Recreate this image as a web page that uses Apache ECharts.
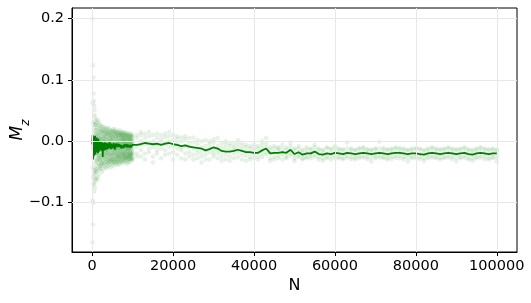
<!DOCTYPE html>
<html>
<head>
<meta charset="utf-8">
<script src="https://cdn.jsdelivr.net/npm/echarts@6/dist/echarts.min.js"></script>
<style>html,body{margin:0;padding:0;background:#fff}#c{width:531px;height:303px}</style>
</head>
<body>
<div id="c"></div>
<script>
// N values at which the running estimate was recorded
const lineN = [0,100,200,300,400,500,600,700,800,900,1000,1100,1200,1300,1400,1500,1600,1700,1800,1900,
2000,2100,2200,2300,2400,2500,2600,2700,2800,2900,3000,3100,3200,3300,3400,3500,3600,3700,3800,3900,
4000,4100,4200,4300,4400,4500,4600,4700,4800,4900,5000,5100,5200,5300,5400,5500,5600,5700,5800,5900,
6000,6100,6200,6300,6400,6500,6600,6700,6800,6900,7000,7100,7200,7300,7400,7500,7600,7700,7800,7900,
8000,8100,8200,8300,8400,8500,8600,8700,8800,8900,9000,9100,9200,9300,9400,9500,9600,9700,9800,9900,
10000,11000,12000,13000,14000,15000,16000,17000,18000,19000,20000,21000,22000,23000,24000,25000,26000,27000,28000,29000,
30000,31000,32000,33000,34000,35000,36000,37000,38000,39000,40000,41000,42000,43000,44000,45000,46000,47000,48000,49000,
50000,51000,52000,53000,54000,55000,56000,57000,58000,59000,60000,61000,62000,63000,64000,65000,66000,67000,68000,69000,
70000,71000,72000,73000,74000,75000,76000,77000,78000,79000,80000,81000,82000,83000,84000,85000,86000,87000,88000,89000,
90000,91000,92000,93000,94000,95000,96000,97000,98000,99000,100000];

// mean M_z (in units of 0.001)
const lineMz = [-5,10,-30,8,-25,5,-20,9,-22,2,
-18,6,-15,-2,-20,4,-12,-3,-17,0,
-14,-4,-10,-1,-16,-5,-26,-3,-12,-6,
-15,-2,-11,-7,-14,-3,-10,-5,-13,-4,
-12,-6,-9,-2,-11,-7,-13,-4,-10,-6,
-12,-5,-9,-3,-11,-6,-14,-5,-9,-4,
-10,-7,-12,-4,-9,-6,-11,-5,-8,-3,
-10,-6,-12,-7,-9,-4,-10,-6,-11,-5,
-9,-7,-12,-6,-9,-5,-10,-7,-11,-6,
-8,-5,-10,-7,-9,-6,-10,-7,-8,-6,
-8,-6,-5,-3,-4,-5,-4,-6,-4,-3,-5,
-6,-8,-7,-9,-10,-11,-12,-15,-13,-10,
-12,-16,-17,-17,-16,-14,-16,-18,-18,-19,
-19,-15,-12,-20,-19,-19,-18,-19,-14,-21,
-18,-22,-20,-20,-17,-21,-22,-20,-21,-19,
-20,-21,-19,-20,-21,-20,-19,-20,-21,-20,
-19,-20,-21,-20,-19,-19,-20,-21,-20,-20,
-21,-22,-20,-19,-20,-21,-20,-19,-20,-21,
-20,-19,-21,-22,-20,-19,-20,-21,-20,-20];

// individual samples of M_z at each N (units of 0.001)
const sampleMz = [
[],
[200,-165,62,-43,-97],[124,-136,31,-58,-12],[104,-101,78,-27,-71],[66,-69,14,-47,28],[58,-54,43,-82,3],
[51,-62,22,-37,-9],[39,-76,9,-52,27],[34,-46,18,-66,-11],[27,-49,12,-31,-61],
[30,-44,-2,-21,9],[18,-50,-12,6,-33],[22,-30,-8,-58,3],[35,-25,-15,0,-40],[12,-62,-4,-20,14],
[26,-36,-11,5,-27],[8,-47,-1,-24,32],[20,-29,-16,-55,2],[28,-39,-6,11,-22],[4,-44,-13,17,-31],
[22,-31,-9,4,-45],[10,-26,-3,-40,16],[25,-19,-11,-35,1],[7,-38,-6,14,-24],[18,-28,-14,-2,-50],
[2,-22,-9,24,-36],[14,-41,-5,-18,6],[20,-25,-12,0,-33],[9,-30,-7,17,-46],[-1,-21,-15,12,-37],
[23,-27,-4,-13,4],[6,-35,-10,15,-22],[11,-18,-8,-42,1],[19,-29,-3,-16,8],[-2,-25,-12,21,-39],
[13,-33,-6,3,-20],[7,-23,-14,16,-44],[17,-30,-1,-11,-35],[2,-19,-9,12,-28],[10,-36,-5,22,-17],
[15,-24,-13,-2,-41],[4,-31,-7,9,-21],[20,-15,-10,-34,0],[-3,-27,-6,13,-38],[11,-22,-12,5,-30],
[6,-33,-4,18,-19],[14,-26,-9,-1,-43],[1,-20,-11,10,-32],[17,-29,-5,-15,3],[8,-37,-8,15,-23],
[-1,-24,-13,7,-35],[12,-18,-6,-30,19],[5,-28,-10,2,-40],[16,-21,-3,-14,-33],[-4,-31,-9,11,-19],
[9,-25,-12,20,-36],[3,-17,-7,14,-29],[13,-34,-4,-11,-1],[7,-22,-14,17,-38],[-2,-27,-8,9,-18],
[15,-30,-6,3,-26],[4,-20,-11,12,-35],[10,-33,-2,-15,-24],[-3,-23,-9,16,-31],[8,-16,-12,5,-39],
[14,-28,-5,-1,-21],[1,-34,-8,10,-25],[11,-19,-13,18,-30],[6,-26,-4,-10,-37],[-1,-22,-9,13,-17],
[12,-31,-6,2,-27],[3,-18,-11,9,-34],[9,-25,-3,-14,16],[-2,-29,-8,6,-21],[13,-20,-12,1,-36],
[5,-32,-5,11,-23],[8,-17,-10,15,-28],[0,-26,-7,4,-33],[11,-22,-13,-1,-19],[4,-30,-4,10,-25],
[14,-19,-9,-15,2],[-1,-27,-6,8,-32],[7,-23,-11,12,-20],[2,-28,-3,-13,-35],[10,-18,-8,5,-26],
[-3,-24,-10,14,-30],[6,-21,-5,1,-37],[12,-29,-12,-2,-17],[3,-16,-7,9,-27],[8,-25,-9,-14,-33],
[-1,-22,-4,11,-20],[5,-30,-11,3,-24],[10,-18,-6,-13,-29],[1,-26,-8,7,-34],[13,-20,-3,-12,-23],
[4,-27,-10,2,-19],[-2,-23,-6,9,-31],[7,-17,-12,-1,-26],[2,-29,-5,11,-21],[9,-22,-8,-14,-28],
[0,-19,-4,6,-30],
[5,-20,-10,10,-25],[10,-15,0,-25,15],[-5,12,-20,5,-30],[8,-18,-2,15,-12],[0,-25,10,-10,-35],
[12,-8,-20,5,-15],[-2,10,-28,-12,3],[6,-15,-5,12,-22],[15,-10,0,-20,8],[2,-18,10,-8,-30],
[-5,8,-22,-12,4],[0,-15,-28,6,-10],[3,-20,-8,-30,8],[-3,-18,5,-25,-10],[-2,-22,-12,6,-30],
[-5,-20,2,-28,-14],[0,-25,-10,-35,-18],[-8,-22,2,-30,-15],[-5,-18,-30,0,-12],[-2,-15,-25,3,-20],
[-8,-20,5,-28,-14],[-10,-25,-3,-32,-18],[-6,-22,-30,-12,0],[-8,-25,-15,-32,-3],[-10,-20,-28,-5,-14],
[-4,-18,-26,-10,2],[-8,-22,-30,-14,-2],[-10,-24,-16,-32,-6],[-12,-26,-18,-30,-8],[-10,-22,-28,-15,-5],
[-12,-25,-18,-30,-8],[-6,-20,-12,-26,0],[-4,-18,-10,-22,5],[-14,-28,-20,-32,-10],[-12,-25,-18,-30,-8],
[-10,-24,-16,-28,-12],[-12,-22,-18,-30,-6],[-14,-26,-20,-28,-10],[-8,-20,-14,-24,-2],[-14,-28,-22,-32,-12],
[-12,-24,-18,-26,-8],[-16,-28,-22,-30,-14],[-14,-26,-20,-28,-10],[-12,-24,-20,-28,-14],[-10,-22,-16,-26,-6],
[-14,-26,-20,-30,-12],[-16,-28,-22,-32,-14],[-12,-26,-20,-28,-10],[-14,-25,-20,-30,-12],[-12,-24,-18,-28,-8],
[-14,-26,-20,-28,-12],[-15,-27,-21,-30,-13],[-12,-24,-19,-27,-2],[-14,-26,-20,-29,-12],[-15,-27,-22,-30,-14],
[-13,-25,-20,-28,-11],[-12,-24,-18,-27,-10],[-14,-26,-20,-29,-13],[-15,-27,-21,-33,-14],[-13,-25,-20,-28,-12],
[-12,-24,-19,-27,-1],[-14,-26,-20,-28,-11],[-15,-27,-22,-30,-13],[-14,-25,-20,-29,-12],[-12,-24,-18,-27,-10],
[-13,-24,-19,-28,-11],[-14,-26,-20,-29,-12],[-15,-27,-22,-33,-14],[-14,-26,-20,-28,-12],[-13,-25,-20,-28,-11],
[-14,-26,-21,-29,-12],[-16,-28,-22,-32,-14],[-14,-25,-20,-28,-12],[-12,-24,-18,-27,-10],[-14,-26,-20,-28,-12],
[-15,-27,-21,-30,-13],[-14,-26,-20,-28,-12],[-12,-24,-18,-27,-10],[-14,-25,-20,-29,-12],[-15,-27,-21,-33,-13],
[-14,-26,-20,-28,-12],[-12,-24,-18,-27,-10],[-15,-27,-21,-30,-13],[-16,-28,-22,-32,-14],[-14,-26,-20,-28,-12],
[-12,-24,-18,-27,-10],[-14,-25,-20,-29,-12],[-15,-27,-21,-30,-13],[-14,-26,-20,-28,-12],[-15,-27,-21,-33,-14]
];

const xTicks = [0,20000,40000,60000,80000,100000];
const yTicks = [-0.1,0.0,0.1,0.2];

const lineData = lineN.map((n,i)=>[n, lineMz[i]/1000]);
const scatterData = [];
sampleMz.forEach((arr,i)=>arr.forEach(v=>scatterData.push([lineN[i], v/1000])));

const FONT = 'DejaVu Sans';
const chart = echarts.init(document.getElementById('c'), null, {renderer:'canvas'});
chart.setOption({
  animation:false,
  backgroundColor:'#fff',
  grid:{left:72,right:14,top:8,bottom:51,outerBoundsMode:'none',containLabel:false,
    show:true,borderColor:'#000',borderWidth:1,backgroundColor:'transparent'},
  xAxis:{type:'value',min:-5000,max:105000,
    name:'N',nameLocation:'middle',nameGap:26,nameMoveOverlap:false,
    nameTextStyle:{fontFamily:FONT,fontSize:16,color:'#000'},
    axisLine:{show:true,onZero:false,lineStyle:{color:'#000',width:1}},
    axisTick:{show:true,length:4,customValues:xTicks,lineStyle:{color:'#000'}},
    axisLabel:{customValues:xTicks,fontFamily:FONT,fontSize:14.5,color:'#000',margin:7,formatter:v=>String(v)},
    splitLine:{show:false}},
  yAxis:{type:'value',min:-0.181,max:0.2175,
    name:'{m|M}{z|z}',nameLocation:'middle',nameGap:46,nameRotate:90,nameMoveOverlap:false,
    nameTextStyle:{rich:{m:{fontFamily:FONT,fontStyle:'italic',fontSize:17,color:'#000'},z:{fontFamily:FONT,fontStyle:'italic',fontSize:12,color:'#000',verticalAlign:'bottom',padding:[0,0,-6,0]}}},
    axisLine:{show:true,onZero:false,lineStyle:{color:'#000',width:1}},
    axisTick:{show:true,length:4,customValues:yTicks,lineStyle:{color:'#000'}},
    axisLabel:{customValues:yTicks,fontFamily:FONT,fontSize:14.5,color:'#000',margin:8,
      formatter:v=>{const s=Math.abs(v).toFixed(1);return (v< -1e-9?'\u2212':'')+s;}},
    splitLine:{show:false}},
  series:[
    {type:'line',data:[],silent:true,z:0,
      markLine:{silent:true,symbol:'none',label:{show:false},animation:false,
        lineStyle:{color:'#e8e8e8',width:1,type:'solid'},
        data:xTicks.map(v=>({xAxis:v})).concat(yTicks.map(v=>({yAxis:v})))}},
    {type:'scatter',data:scatterData,symbolSize:4.5,silent:true,z:1,
      itemStyle:{color:'#008000',opacity:0.1}},
    {type:'line',data:lineData,showSymbol:false,silent:true,z:2,
      lineStyle:{color:'#008000',width:1.8},itemStyle:{color:'#008000'}}
  ]
});
</script>
</body>
</html>
